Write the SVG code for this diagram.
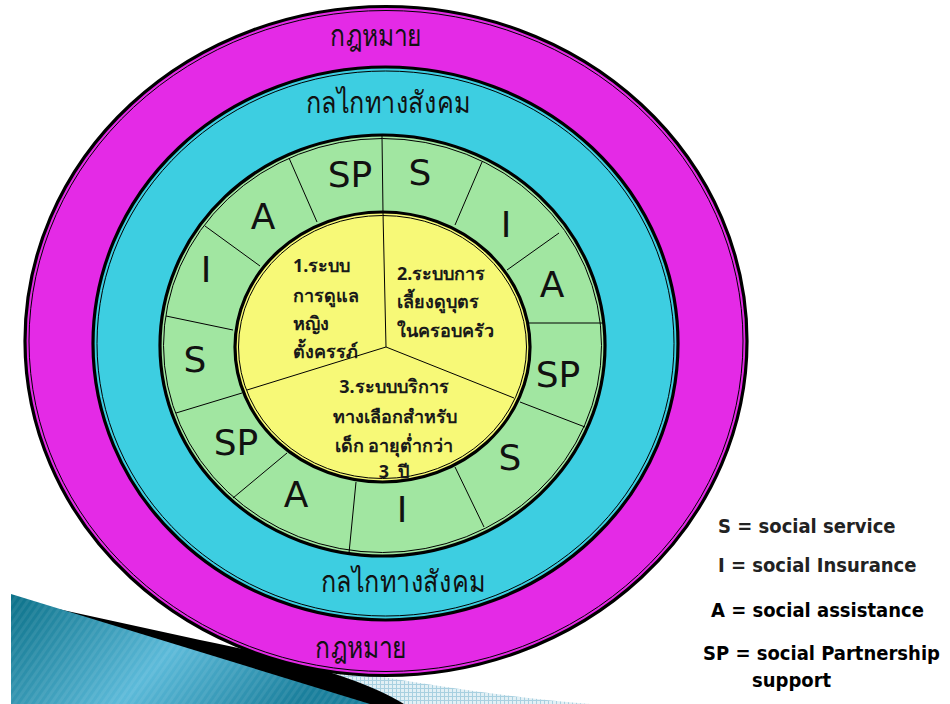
<svg xmlns="http://www.w3.org/2000/svg" width="950" height="704" viewBox="0 0 950 704">
<defs>
<linearGradient id="teal" x1="0" y1="0" x2="1" y2="0.3">
<stop offset="0" stop-color="#0a7088"/>
<stop offset="0.55" stop-color="#5cbad9"/>
<stop offset="1" stop-color="#1a7f9c"/>
</linearGradient>
<pattern id="grid" width="4" height="4" patternUnits="userSpaceOnUse">
<rect width="4" height="4" fill="#e2f0f5"/>
<path d="M0 0.5H4M0.5 0V4" stroke="#a8d0e0" stroke-width="1"/>
</pattern>
<pattern id="stripes" width="6" height="6" patternUnits="userSpaceOnUse" patternTransform="rotate(35)">
<rect width="3" height="6" fill="#ffffff" opacity="0.07"/>
</pattern>
<style>
.thick{stroke:#000;stroke-width:3.2}
.thin{fill:none;stroke:#000;stroke-width:1}
.div{stroke:#000;stroke-width:1;fill:none}
.ring{font-family:"Noto Sans",sans-serif;font-size:30px;fill:#111;text-anchor:middle}
.seg{font-family:"DejaVu Sans",sans-serif;font-size:36px;fill:#111;text-anchor:middle}
.core{font-family:"Noto Sans",sans-serif;font-size:18px;font-weight:bold;fill:#1a1a1a}
.mid{text-anchor:middle}
.leg{font-family:"DejaVu Sans Condensed","DejaVu Sans",sans-serif;font-stretch:condensed;font-size:20px;font-weight:bold}
</style>
</defs>

<g id="decoration">
<path d="M60 610 C200 643 400 688 590 704 L300 704 Z" fill="url(#grid)"/>
<path d="M58 609 L200 640 Q350 670 404 704 L11 704 Z" fill="#000"/>
<path d="M11 594 L370 704 L11 704 Z" fill="url(#teal)"/>
<path d="M11 594 L370 704 L11 704 Z" fill="url(#stripes)"/>
</g>

<g id="ring-law">
<ellipse cx="386" cy="341" rx="361" ry="334.5" fill="#e42ae6" class="thick"/>
<ellipse cx="386" cy="341" rx="357" ry="330.5" class="thin"/>
<text class="ring" transform="translate(376 46) scale(0.82 1)">กฎหมาย</text>
<text class="ring" transform="translate(361 658) scale(0.82 1)">กฎหมาย</text>
</g>

<g id="ring-mechanism">
<ellipse cx="385.5" cy="343.5" rx="292.5" ry="276.5" fill="#3dcee1" class="thick" stroke-width="4"/>
<ellipse cx="385.5" cy="343.5" rx="288.5" ry="272.5" class="thin"/>
<text class="ring" transform="translate(388 113) scale(0.84 1)">กลไกทางสังคม</text>
<text class="ring" transform="translate(403 592) scale(0.84 1)">กลไกทางสังคม</text>
</g>

<g id="ring-measures">
<ellipse cx="382.5" cy="345.5" rx="222.5" ry="210.5" fill="#a1e6a1" class="thick"/>
<ellipse cx="382.5" cy="345.5" rx="219" ry="207" class="thin"/>
<g id="segment-labels">
<text class="seg" x="350" y="187">SP</text>
<text class="seg" x="420" y="185">S</text>
<text class="seg" x="506" y="237">I</text>
<text class="seg" x="552" y="297">A</text>
<text class="seg" x="558" y="387">SP</text>
<text class="seg" x="510" y="470">S</text>
<text class="seg" x="402" y="522">I</text>
<text class="seg" x="296" y="507">A</text>
<text class="seg" x="236" y="455">SP</text>
<text class="seg" x="195" y="372">S</text>
<text class="seg" x="206" y="282">I</text>
<text class="seg" x="263" y="229">A</text>
</g>
</g>

<g id="core">
<ellipse cx="382.5" cy="347" rx="147.5" ry="135" fill="#f7f977" class="thick"/>
<ellipse cx="382.5" cy="347" rx="144" ry="131.5" class="thin"/>
<g id="core-1">
<text class="core" x="293" y="272">1.ระบบ</text>
<text class="core" x="293" y="302">การดูแล</text>
<text class="core" x="293" y="330">หญิง</text>
<text class="core" x="293" y="358">ตั้งครรภ์</text>
</g>
<g id="core-2">
<text class="core" x="397" y="280">2.ระบบการ</text>
<text class="core" x="397" y="308">เลี้ยงดูบุตร</text>
<text class="core" x="397" y="337">ในครอบครัว</text>
</g>
<g id="core-3">
<text class="core mid" x="394" y="393">3.ระบบบริการ</text>
<text class="core mid" x="395" y="423">ทางเลือกสำหรับ</text>
<text class="core mid" x="394" y="452">เด็ก อายุต่ำกว่า</text>
<text class="core mid" x="394" y="478">3&#160; ปี</text>
</g>
</g>

<g id="connectors">
<path class="div" d="M386 347 L383 213 M386 347 L247 390 M386 347 L514 398"/>
<path class="div" d="M383 213 L382 136 M455 225 L482 162 M507 270 L559 233 M529 323 L603 323 M520 402 L585 427 M455 467 L484 527 M356 482 L349 553 M287 453 L233 498 M242 393 L176 413 M233 330 L166 316 M260 266 L205 226 M317 222 L289 158"/>
</g>

<g id="legend">
<text class="leg" x="718" y="533" fill="#222">S = social service</text>
<text class="leg" x="718" y="572" fill="#222">I = social Insurance</text>
<text class="leg" x="711" y="617" fill="#000">A = social assistance</text>
<text class="leg" x="703" y="660" fill="#000">SP = social Partnership</text>
<text class="leg" x="752" y="687" fill="#000">support</text>
</g>
</svg>
